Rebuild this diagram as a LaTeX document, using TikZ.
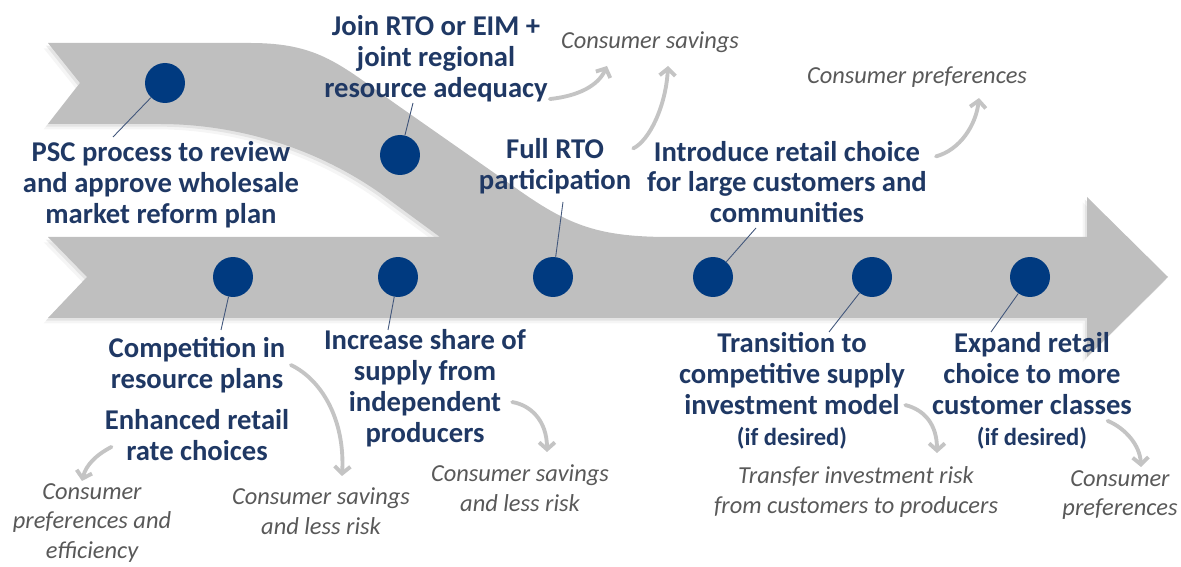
\documentclass[tikz,border=0pt]{standalone}
\usepackage{fontspec}
\setmainfont{Carlito}
\usetikzlibrary{arrows.meta,shadows}
\definecolor{navy}{RGB}{31,56,100}
\definecolor{dotblue}{RGB}{0,58,128}
\definecolor{bandgray}{RGB}{191,191,191}
\definecolor{arrowgray}{RGB}{196,196,196}
\definecolor{notegray}{RGB}{89,89,89}

\begin{document}
\begin{tikzpicture}[x = 0.02cm, y = -0.02cm,
    band/.style = {fill=bandgray,
        drop shadow={shadow xshift=-2.5pt, shadow yshift=-3pt, opacity=.08},
        drop shadow={shadow xshift=-1.2pt, shadow yshift=-1.5pt, opacity=.15}},
    milestone/.style = {circle, fill=dotblue, inner sep=0pt, minimum size=0.8cm},
    pin/.style = {draw=navy!85, line width=0.5pt},
    flow/.style = {draw=arrowgray, line width=2.2pt, line cap=round, -{Straight Barb[length=4pt,width=9pt]}},
    goal/.style = {text=navy, font=\bfseries\fontsize{16.3}{17.6}\selectfont, align=center, inner sep=0pt},
    gain/.style = {text=notegray, font=\itshape\fontsize{13.9}{17}\selectfont, align=center, inner sep=0pt}]

    \useasboundingbox (0,0) rectangle (1181,567);

    % band
    \fill[band] (48,43) -- (250,43) .. controls (320,43) and (340,65) .. (400,107)
        -- (520,191) .. controls (570,226) and (600,237) .. (670,237)
        -- (1087,237) -- (1087,197) -- (1168,277) -- (1087,357) -- (1087,318)
        -- (48,318) -- (87,277) -- (48,237) -- (440,237) -- (380,193)
        .. controls (310,144) and (230,124) .. (160,124) -- (48,124) -- (80,83) -- cycle;

    % milestones
    \node[milestone] (m1) at (165,83) {};
    \node[milestone] (m2) at (400,155) {};
    \node[milestone] (n1) at (233,277) {};
    \node[milestone] (n2) at (398,277) {};
    \node[milestone] (n3) at (553,277) {};
    \node[milestone] (n4) at (713,277) {};
    \node[milestone] (n5) at (872,277) {};
    \node[milestone] (n6) at (1030,277) {};

    % steps
    \node[goal] (l1) at (161,185) {PSC process to review\\and approve wholesale\\market reform plan};
    \node[goal] (l2) at (436,59) {Join RTO or EIM +\\joint regional\\resource adequacy};
    \node[goal] (l3) at (555,166) {Full RTO\\participation};
    \node[goal] (l4) at (787,182) {Introduce retail choice\\for large customers and\\communities};
    \node[goal] (l5) at (197,365) {Competition in\\resource plans};
    \node[goal] (l6) at (197,435) {Enhanced retail\\rate choices};
    \node[goal] (l7) at (425,388) {Increase share of\\supply from\\independent\\producers};
    \node[goal] (l8) at (792,391) {Transition to\\competitive supply\\investment model\\{\fontsize{14}{16}\selectfont (if desired)}};
    \node[goal] (l9) at (1032,391) {Expand retail\\choice to more\\customer classes\\{\fontsize{14}{16}\selectfont (if desired)}};

    % benefits
    \node[gain] (c1) at (650,42) {Consumer savings};
    \node[gain] (c2) at (917,77) {Consumer preferences};
    \node[gain] (c3) at (92,523) {Consumer\\preferences and\\efficiency};
    \node[gain] (c4) at (321,511) {Consumer savings\\and less risk};
    \node[gain] (c5) at (520,488) {Consumer savings\\and less risk};
    \node[gain] (c6) at (856,492) {Transfer investment risk\\from customers to producers};
    \node[gain] (c7) at (1120,495) {Consumer\\preferences};

    % pins
    \coordinate (p1) at (113,137);
    \coordinate (p2) at (413,103);
    \coordinate (p3) at (563,202);
    \coordinate (p4) at (756,228);
    \coordinate (p5) at (221,330);
    \coordinate (p6) at (388,330);
    \coordinate (p7) at (829,332);
    \coordinate (p8) at (991,332);
    \draw[pin] (m1) -- (p1);
    \draw[pin] (m2) -- (p2);
    \draw[pin] (n3) -- (p3);
    \draw[pin] (n4) -- (p4);
    \draw[pin] (n1) -- (p5);
    \draw[pin] (n2) -- (p6);
    \draw[pin] (n5) -- (p7);
    \draw[pin] (n6) -- (p8);

    % flows
    \coordinate (t1) at (607,66);
    \coordinate (t2) at (668,66);
    \coordinate (t3) at (979,98);
    \coordinate (t4) at (342,476);
    \coordinate (t5) at (82,481);
    \coordinate (t6) at (547,452);
    \coordinate (t7) at (937,453);
    \coordinate (t8) at (1141,467);
    \draw[flow] ([xshift=1pt,yshift=2pt]l2.south east) .. controls (578,96) and (598,86) .. (t1);
    \draw[flow] ([xshift=1pt,yshift=10pt]l3.east) .. controls (650,140) and (666,105) .. (t2);
    \draw[flow] ([xshift=5pt,yshift=-9pt]l4.north east) .. controls (960,150) and (976,125) .. (t3);
    \draw[flow] ([xshift=3pt]l5.east) .. controls (322,380) and (345,420) .. (t4);
    \draw[flow] ([xshift=4pt,yshift=8pt]l6.south west) .. controls (96,455) and (86,465) .. (t5);
    \draw[flow] ([xshift=-8pt,yshift=-8pt]l7.east) .. controls (530,405) and (547,420) .. (t6);
    \draw[flow] ([yshift=-8pt]l8.east) .. controls (925,410) and (937,425) .. (t7);
    \draw[flow] ([xshift=-14pt,yshift=-17pt]l9.east) .. controls (1125,428) and (1140,445) .. (t8);

\end{tikzpicture}
\end{document}
